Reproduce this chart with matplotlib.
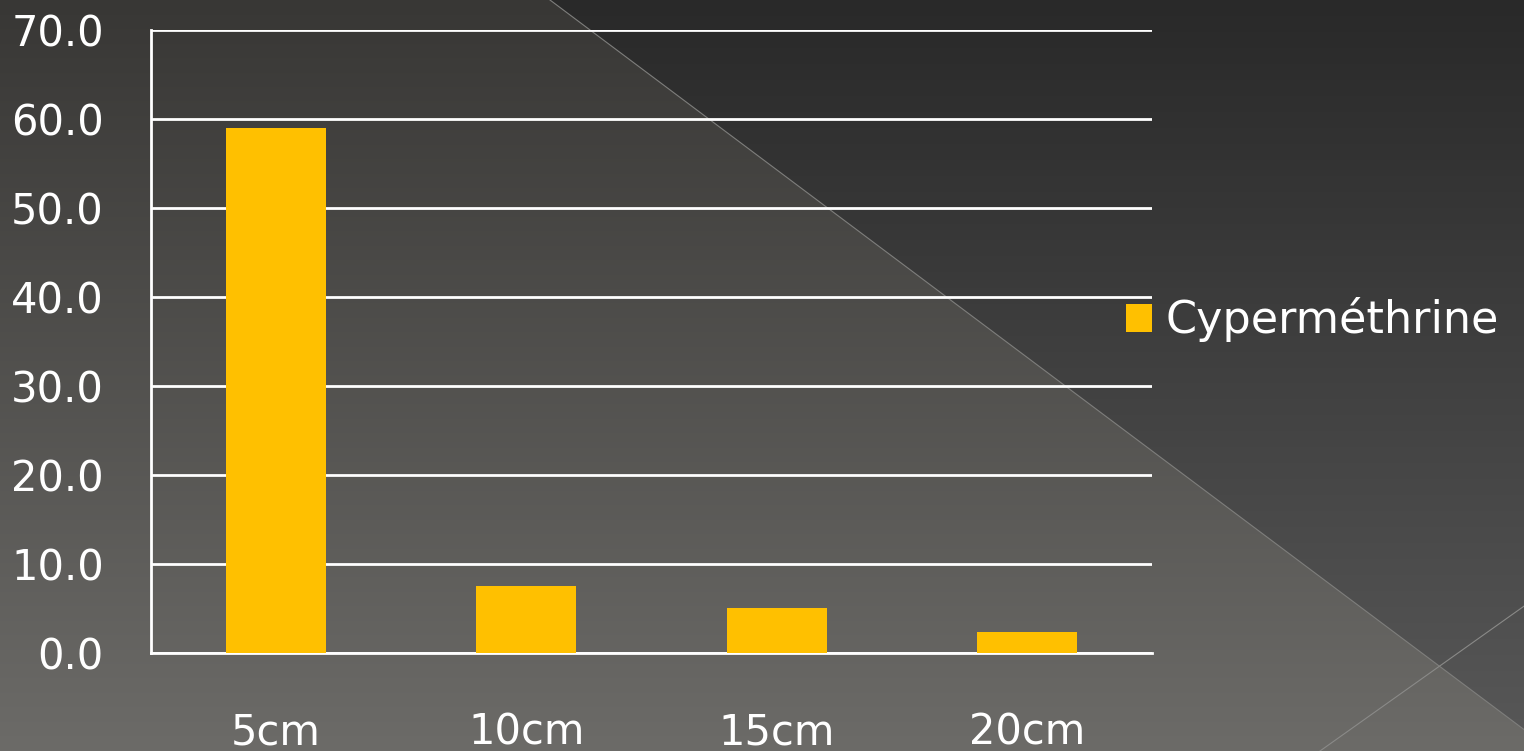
import numpy as np
import matplotlib
matplotlib.use("Agg")
import matplotlib.pyplot as plt

categories = ["5cm", "10cm", "15cm", "20cm"]
values = [59.0, 7.5, 5.1, 2.4]
series_name = "Cyperméthrine"
yticks = [0, 10, 20, 30, 40, 50, 60, 70]

W, H = 1524, 751
fig = plt.figure(figsize=(W / 100, H / 100), dpi=100)
FONT = "DejaVu Sans"
FS = 30

# background
yy, xx = np.mgrid[0:H, 0:W].astype(float)
t = yy / (H - 1)
base_top = np.array([0x38, 0x37, 0x35]) / 255
base_bot = np.array([0x6c, 0x6b, 0x68]) / 255
dark_top = np.array([0x29, 0x29, 0x29]) / 255
dark_bot = np.array([0x58, 0x58, 0x58]) / 255
img = base_top + (base_bot - base_top) * t[..., None]
dark = dark_top + (dark_bot - dark_top) * t[..., None]
d1 = yy - 0.749 * (xx - 550)
d2 = yy - (751 - 0.71 * (xx - 1320))
mask_dark = d1 < 0
img[mask_dark] = dark[mask_dark]
mask_br = (d1 >= 0) & (d2 < 0) & (xx > 1440)
mid_top = np.array([0x50, 0x50, 0x50]) / 255
mid_bot = np.array([0x5c, 0x5c, 0x5c]) / 255
mid = mid_top + (mid_bot - mid_top) * t[..., None]
img[mask_br] = mid[mask_br]
bg = fig.add_axes([0, 0, 1, 1])
bg.imshow(img, extent=[0, W, H, 0], aspect="auto", interpolation="bilinear")
xs = np.array([550, 1524])
bg.plot(xs, 0.749 * (xs - 550), color="#7e7e7c", lw=0.8)
xs2 = np.array([1320, 1524])
bg.plot(xs2, 751 - 0.71 * (xs2 - 1320), color="#8a8a88", lw=0.8)
bg.set_xlim(0, W)
bg.set_ylim(H, 0)
bg.axis("off")

ax = fig.add_axes([151 / W, (H - 653) / H, 1001 / W, 623 / H])
ax.patch.set_alpha(0)
x = np.arange(len(categories))
bars = ax.bar(x, values, width=0.4, color="#FFC000", zorder=3, label=series_name)
ax.set_xlim(-0.5, len(categories) - 0.5)
ax.set_ylim(0, 70)
ax.set_yticks(yticks)
ax.set_yticklabels([f"{v:.1f}" for v in yticks])
ax.set_xticks(x)
ax.set_xticklabels(categories)
ax.yaxis.grid(True, color="white", lw=2)
ax.set_axisbelow(True)
for s in ["top", "right"]:
    ax.spines[s].set_visible(False)
for s in ["left", "bottom"]:
    ax.spines[s].set_color("white")
    ax.spines[s].set_linewidth(2)
ax.tick_params(axis="y", length=0, pad=34, labelsize=FS, labelcolor="white")
ax.tick_params(axis="x", length=0, pad=42, labelsize=FS, labelcolor="white")
for lab in ax.get_xticklabels() + ax.get_yticklabels():
    lab.set_fontfamily(FONT)

leg = fig.legend(handles=[bars], labels=[series_name], loc="center left",
                 bbox_to_anchor=(1126 / W, 1 - 320 / H), frameon=False,
                 handlelength=0.58, handleheight=0.58, handletextpad=0.32,
                 borderaxespad=0, borderpad=0, prop={"family": FONT, "size": 32})
for t_ in leg.get_texts():
    t_.set_color("white")

fig.savefig("out.png", dpi=100)
